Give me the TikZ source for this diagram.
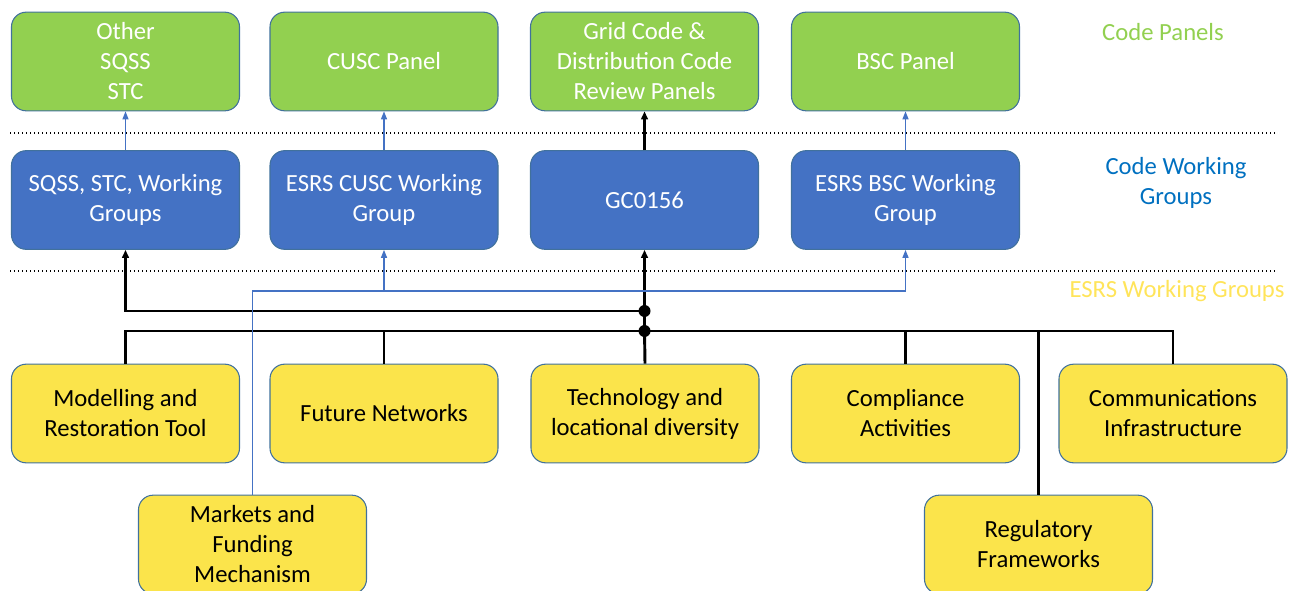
\documentclass[tikz,border=0pt]{standalone}
\usepackage{fontspec}
\setmainfont{Carlito}
\definecolor{panelgreen}{RGB}{146,208,80}
\definecolor{groupblue}{RGB}{68,114,196}
\definecolor{esrsyellow}{RGB}{251,228,75}
\definecolor{edgeblue}{RGB}{65,113,156}
\definecolor{labelblue}{RGB}{0,112,192}
\definecolor{labelyellow}{RGB}{255,228,90}
\usetikzlibrary{arrows.meta}

\begin{document}
\begin{tikzpicture}[x=0.75pt,y=-0.75pt,
  box/.style={draw=edgeblue, line width=0.8pt, rounded corners=11pt,
    minimum width=171pt, minimum height=74pt, align=center,
    font=\fontsize{18.5}{22.5}\selectfont},
  panel/.style={box, fill=panelgreen, text=white},
  wgroup/.style={box, fill=groupblue, text=white},
  esrs/.style={box, fill=esrsyellow, text=black},
  tag/.style={align=center, font=\fontsize{18.5}{22.5}\selectfont},
  bus/.style={line width=2.2pt},
  link/.style={bus, -{Triangle[length=6pt,width=5pt]}},
  thin/.style={groupblue, line width=1pt},
  thinlink/.style={thin, -{Triangle[length=6pt,width=4.5pt]}}]
  \useasboundingbox (0,0) rectangle (1291,591);
  % code panels
  \node[panel] (otherp) at (125.5,61.5) {Other\\SQSS\\STC};
  \node[panel] (cuscp) at (384,61.5) {CUSC Panel};
  \node[panel] (gcp) at (644.5,61.5) {Grid Code \&\\Distribution Code\\Review Panels};
  \node[panel] (bscp) at (905.5,61.5) {BSC Panel};
  % code working groups
  \node[wgroup] (sqwg) at (125.5,200) {SQSS, STC, Working\\Groups};
  \node[wgroup] (cuscwg) at (384,200) {ESRS CUSC Working\\Group};
  \node[wgroup] (gcwg) at (644.5,200) {GC0156};
  \node[wgroup] (bscwg) at (905.5,200) {ESRS BSC Working\\Group};
  % esrs working groups
  \node[esrs] (mrt) at (125.5,413.5) {Modelling and\\Restoration Tool};
  \node[esrs] (fn) at (384,413.5) {Future Networks};
  \node[esrs] (tld) at (645,413.5) {Technology and\\locational diversity};
  \node[esrs] (ca) at (905.5,413.5) {Compliance\\Activities};
  \node[esrs] (ci) at (1173,413.5) {Communications\\Infrastructure};
  \node[esrs] (mfm) at (252.5,544.5) {Markets and\\Funding\\Mechanism};
  \node[esrs] (rf) at (1038.5,544.5) {Regulatory\\Frameworks};
  % layer labels
  \node[tag, panelgreen] (lp) at (1163,32) {Code Panels};
  \node[tag, labelblue] (lw) at (1176,183) {Code Working\\Groups};
  \node[tag, labelyellow] (le) at (1177,291) {ESRS Working Groups};
  \draw[dotted, line width=1pt] (10,133) -- (1275,133);
  \draw[dotted, line width=1pt] (10,271) -- (1275,271);
  % panels fed by working groups
  \draw[thinlink] (sqwg) -- (otherp);
  \draw[thinlink] (cuscwg) -- (cuscp);
  \draw[link] (gcwg) -- (gcp);
  \draw[thinlink] (bscwg) -- (bscp);
  % black bus
  \coordinate (j1) at (644.5,311);
  \coordinate (j2) at (644.5,331);
  \draw[bus] (mrt.north) |- (j2) -| (ci.north);
  \draw[bus] (fn.north) -- (fn.north |- j2);
  \draw[bus] (tld.north) -- (j2);
  \draw[bus] (ca.north) -- (ca.north |- j2);
  \draw[bus] (rf.north) -- (rf.north |- j2);
  \draw[link] (j2) -- (gcwg.south);
  \draw[link] (j1) -| (sqwg.south);
  \fill (j1) circle (4.5pt);
  \fill (j2) circle (4.5pt);
  % blue feed from markets
  \coordinate (bl) at (905.5,291);
  \draw[thin] (mfm.north) |- (bl);
  \draw[thinlink] (bl) -- (bscwg.south);
  \draw[thinlink] (cuscwg.south |- bl) -- (cuscwg.south);
\end{tikzpicture}
\end{document}
